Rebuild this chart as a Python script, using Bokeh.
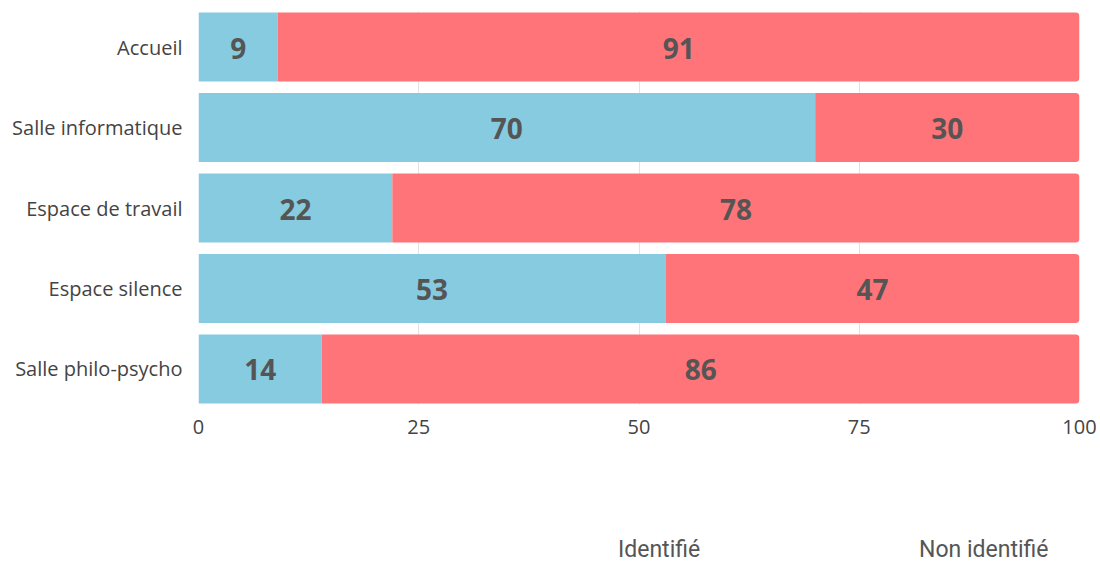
from bokeh.plotting import figure
from bokeh.layouts import column
from bokeh.models import (ColumnDataSource, Range1d, FixedTicker, Legend, LegendItem,
                          LabelSet)
from bokeh.core.properties import value
from bokeh.embed import file_html
from bokeh.resources import INLINE

categories = ["Accueil", "Salle informatique", "Espace de travail", "Espace silence", "Salle philo-psycho"]
identifie = [9, 70, 22, 53, 14]
non_identifie = [91, 30, 78, 47, 86]
series_names = ["Identifié", "Non identifié"]
x_ticks = [0, 25, 50, 75, 100]

BLUE = "#87cbe1"
RED = "#ff7478"

n = len(categories)
ypos = [n - 1 - i for i in range(n)]
src = ColumnDataSource(dict(
    y=ypos,
    cat=categories,
    a_end=identifie,
    b_end=[a + b for a, b in zip(identifie, non_identifie)],
    a_mid=[a / 2 for a in identifie],
    b_mid=[a + b / 2 for a, b in zip(identifie, non_identifie)],
    a_lab=[str(v) for v in identifie],
    b_lab=[str(v) for v in non_identifie],
))

p = figure(width=1100, height=450, output_backend="svg", toolbar_location=None,
           x_range=Range1d(0, 100), y_range=Range1d(-0.441, n - 1 + 0.441),
           min_border_left=198, min_border_right=21, min_border_top=11, min_border_bottom=46)
p.outline_line_color = None

r1 = p.hbar(y="y", left=0, right="a_end", height=0.857, source=src,
            fill_color=BLUE, line_color=None)
r2 = p.hbar(y="y", left="a_end", right="b_end", height=0.857, source=src,
            fill_color=RED, line_color=None,
            border_radius=dict(top_left=0, top_right=4, bottom_right=4, bottom_left=0))

for col, lab in (("a_mid", "a_lab"), ("b_mid", "b_lab")):
    ls = LabelSet(x=col, y="y", text=lab, source=src, text_align="center",
                  text_baseline="middle", text_font=value("Open Sans"), text_font_style="bold",
                  text_font_size="28px", text_color="#555555", y_offset=-1)
    p.add_layout(ls)

# x axis
p.xaxis.ticker = FixedTicker(ticks=x_ticks)
p.xaxis.axis_line_color = None
p.xaxis.major_tick_line_color = None
p.xaxis.minor_tick_line_color = None
p.xaxis.major_label_standoff = 9
p.xaxis.major_label_text_font = "Open Sans"
p.xaxis.major_label_text_font_size = "20px"
p.xaxis.major_label_text_color = "#444444"

# y axis
p.yaxis.ticker = FixedTicker(ticks=ypos)
p.yaxis.major_label_overrides = {y: c for y, c in zip(ypos, categories)}
p.yaxis.axis_line_color = None
p.yaxis.major_tick_line_color = None
p.yaxis.minor_tick_line_color = None
p.yaxis.major_label_standoff = 10
p.yaxis.major_label_text_font = "Open Sans"
p.yaxis.major_label_text_font_size = "20px"
p.yaxis.major_label_text_color = "#444444"

p.xgrid.ticker = FixedTicker(ticks=x_ticks)
p.xgrid.grid_line_color = "#e2e2e2"
p.ygrid.grid_line_color = None

# legend panel (separate figure below the chart)
lf = figure(width=1100, height=118, output_backend="svg", toolbar_location=None,
            x_axis_type=None, y_axis_type=None, x_range=Range1d(0, 1), y_range=Range1d(0, 1),
            min_border=0)
lf.outline_line_color = None
empty = ColumnDataSource(dict(y=[], right=[]))
g1 = lf.hbar(y="y", right="right", height=1, source=empty, fill_color=BLUE, line_color=None)
g2 = lf.hbar(y="y", right="right", height=1, source=empty, fill_color=RED, line_color=None)

legend = Legend(items=[LegendItem(label=series_names[0], renderers=[g1]),
                       LegendItem(label=series_names[1], renderers=[g2])],
                orientation="horizontal", location=(362, 0),
                glyph_width=41, glyph_height=38, label_height=38,
                label_standoff=17, label_width=194, spacing=49,
                padding=0, margin=0, border_line_color=None, background_fill_alpha=0,
                label_text_font="Roboto", label_text_font_size="23px",
                label_text_color="#555555")
lf.add_layout(legend, "center")

layout = column(p, lf, spacing=0)
open("out.html", "w").write(file_html(layout, INLINE))
